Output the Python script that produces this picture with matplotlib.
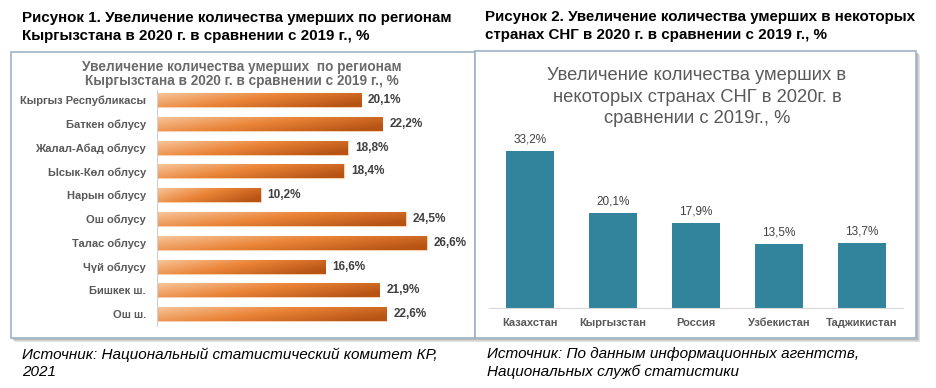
import numpy as np
import matplotlib
matplotlib.use("Agg")
import matplotlib.pyplot as plt
from matplotlib.patches import Rectangle

plt.rcParams['font.family'] = ['Liberation Sans', 'DejaVu Sans']

# data
regions = ["Кыргыз Республикасы", "Баткен облусу", "Жалал-Абад облусу", "Ысык-Көл облусу",
           "Нарын облусу", "Ош облусу", "Талас облусу", "Чүй облусу", "Бишкек ш.", "Ош ш."]
region_vals = [20.1, 22.2, 18.8, 18.4, 10.2, 24.5, 26.6, 16.6, 21.9, 22.6]

countries = ["Казахстан", "Кыргызстан", "Россия", "Узбекистан", "Таджикистан"]
country_vals = [33.2, 20.1, 17.9, 13.5, 13.7]

W, H = 936, 388
fig = plt.figure(figsize=(W / 100, H / 100), dpi=100)


def fx(px):
    return px / W


def fy(py):
    return 1 - py / H


def box(x0, y0, x1, y1, z):
    # soft shadow then white frame
    for k, c in [(4, "#e2e2e2"), (3, "#cfcfcf"), (2, "#bdbdbd")]:
        fig.patches.append(Rectangle((fx(x0 + k), fy(y1 + k)), fx(x1 - x0), (y1 - y0) / H,
                                     transform=fig.transFigure, facecolor=c,
                                     edgecolor="none", zorder=z - 0.5))
    fig.patches.append(Rectangle((fx(x0), fy(y1)), fx(x1 - x0), (y1 - y0) / H,
                                 transform=fig.transFigure, facecolor="white",
                                 edgecolor="#9fb1c8", lw=1.2, zorder=z))


box(11, 52, 475, 338, -4)
box(475, 51, 916, 338, -2)

# figure headings
fig.text(fx(22), fy(27), "Рисунок 1. Увеличение количества умерших по регионам\n"
         "Кыргызстана в 2020 г. в сравнении с 2019 г., %",
         fontsize=10.9, fontweight="bold", va="center", ha="left", linespacing=1.4)
fig.text(fx(485), fy(26), "Рисунок 2. Увеличение количества умерших в некоторых\n"
         "странах СНГ в 2020 г. в сравнении с 2019 г., %",
         fontsize=10.9, fontweight="bold", va="center", ha="left", linespacing=1.4)

fig.text(fx(22), fy(363), "Источник: Национальный статистический комитет КР,\n2021",
         fontsize=11, style="italic", va="center", ha="left", linespacing=1.25)
fig.text(fx(487), fy(363), "Источник: По данным информационных агентств,\n"
         "Национальных служб статистики",
         fontsize=11, style="italic", va="center", ha="left", linespacing=1.25)

# ---- left chart
ax1 = fig.add_axes([fx(157), fy(326), fx(460 - 157), (326 - 90) / H])
bars = ax1.barh(range(len(regions)), region_vals, height=0.59,
                color="#e8843a", edgecolor="#f6d2b3", lw=0.8, zorder=2)

# gradient fill inside each bar
gx = np.linspace(0, 1, 64)
gy = np.linspace(0, 1, 16)
GX, GY = np.meshgrid(gx, gy)
t = np.clip(0.75 * GX + 0.35 * GY, 0, 1)
light = np.array([0.97, 0.78, 0.62])
mid = np.array([0.92, 0.52, 0.22])
dark = np.array([0.72, 0.33, 0.08])
img = np.where(t[..., None] < 0.5,
               light + (mid - light) * (t[..., None] / 0.5),
               mid + (dark - mid) * ((t[..., None] - 0.5) / 0.5))
for b in bars:
    x0, y0 = b.get_x(), b.get_y()
    im = ax1.imshow(img, extent=(x0, x0 + b.get_width(), y0 + b.get_height(), y0),
                    aspect="auto", zorder=2.5, interpolation="bilinear")
    im.set_clip_path(b)
for i, v in enumerate(region_vals):
    ax1.text(v + 0.7, i, f"{v:.1f}%".replace(".", ","), va="center", ha="left",
             fontsize=8.5, fontweight="bold", color="#404040")
ax1.set_yticks(range(len(regions)))
ax1.set_yticklabels(regions, fontsize=8, fontweight="bold", color="#595959")
ax1.tick_params(axis="y", length=0, pad=8)
ax1.set_xticks([])
for s in ["top", "right", "bottom"]:
    ax1.spines[s].set_visible(False)
ax1.spines["left"].set_color("#d0d0d0")
ax1.set_xlim(0, 303 / 10.15)
ax1.set_ylim(9.5, -0.42)
ax1.patch.set_alpha(0)

fig.text(fx(242), fy(74), "Увеличение количества умерших  по регионам\n"
         "Кыргызстана в 2020 г. в сравнении с 2019 г., %",
         fontsize=9.8, fontweight="bold", color="#6a6a6a", ha="center", va="center",
         linespacing=1.05)

# ---- right chart
ax2 = fig.add_axes([fx(489), fy(308), fx(903 - 489), (308 - 140) / H])
ax2.bar(range(len(countries)), country_vals, width=0.59, color="#31849b", zorder=2)
ax2.set_xlim(-0.494, 4.494)
ax2.set_ylim(0, 168 / 4.73)
for i, v in enumerate(country_vals):
    ax2.text(i, v + 1.2, f"{v:.1f}%".replace(".", ","), ha="center", va="bottom",
             fontsize=8.5, color="#404040")
ax2.set_xticks(range(len(countries)))
ax2.set_xticklabels(countries, fontsize=8, fontweight="bold", color="#595959")
ax2.tick_params(axis="x", length=0, pad=7)
ax2.set_yticks([])
for s in ["top", "right", "left"]:
    ax2.spines[s].set_visible(False)
ax2.spines["bottom"].set_color("#d9d9d9")
ax2.patch.set_alpha(0)

fig.text(fx(697), fy(97), "Увеличение количества умерших в\n"
         "некоторых странах СНГ в 2020г. в\nсравнении с 2019г., %",
         fontsize=13.2, color="#595959", ha="center", va="center", linespacing=1.35)

fig.savefig("out.png", dpi=100)
